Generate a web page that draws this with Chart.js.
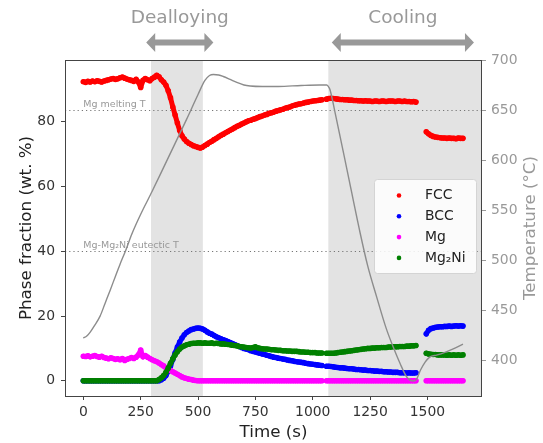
<!DOCTYPE html>
<html>
<head>
<meta charset="utf-8">
<script src="https://cdn.jsdelivr.net/npm/chart.js@4.4.0/dist/chart.umd.min.js"></script>
<style>
  html, body { margin: 0; padding: 0; background: #fff; }
</style>
</head>
<body>
<canvas id="phaseChart" width="543" height="443"></canvas>
<script>
// Sampling times (s) for the phase fractions, three acquisition segments
const time = [
  0, 10, 20, 30, 40, 50, 60, 70, 80, 90,
  100, 110, 120, 130, 140, 150, 160, 170, 180, 190,
  200, 210, 220, 230, 240, 250, 260, 270, 280, 290,
  300, 310, 320, 330, 340, 350, 360, 370, 380, 390,
  400, 410, 420, 430, 440, 450, 460, 470, 480, 490,
  500, 510, 520, 530, 540, 550, 560, 570, 580, 590,
  600, 610, 620, 630, 640, 650, 660, 670, 680, 690,
  700, 710, 720, 730, 740, 750, 760, 770, 780, 790,
  800, 810, 820, 830, 840, 850, 860, 870, 880, 890,
  900, 910, 920, 930, 940, 950, 960, 970, 980, 990,
  1000, 1010, 1020, 1030, 1040,
  1060, 1070, 1080, 1090, 1100, 1110, 1120, 1130, 1140, 1150,
  1160, 1170, 1180, 1190, 1200, 1210, 1220, 1230, 1240, 1250,
  1260, 1270, 1280, 1290, 1300, 1310, 1320, 1330, 1340, 1350,
  1360, 1370, 1380, 1390, 1400, 1410, 1420, 1430, 1440, 1450,
  1495, 1505, 1515, 1525, 1535, 1545, 1555, 1565, 1575, 1585,
  1595, 1605, 1615, 1625, 1635, 1645, 1655
];

// Phase fractions (wt. %)
const fcc = [
  92.4, 92.2, 92.5, 92.3, 92.6, 92.4, 92.7, 92.5, 92.3, 92.6,
  92.8, 93.0, 93.2, 93.4, 93.1, 93.3, 93.6, 93.8, 93.5, 93.2,
  93.0, 92.8, 92.5, 93.1, 92.3, 90.6, 92.8, 93.4, 93.0, 92.7,
  93.4, 93.8, 94.4, 93.9, 93.0, 92.3, 91.3, 89.6, 87.4, 84.6,
  82.1, 79.6, 77.3, 75.7, 74.7, 73.9, 73.4, 73.0, 72.6, 72.4,
  72.1, 71.9, 72.2, 72.7, 73.1, 73.6, 74.0, 74.5, 74.9, 75.4,
  75.8, 76.2, 76.6, 77.0, 77.4, 77.8, 78.2, 78.6, 78.9, 79.3,
  79.6, 80.0, 80.3, 80.5, 80.8, 81.0, 81.3, 81.6, 81.8, 82.1,
  82.3, 82.6, 82.8, 83.0, 83.3, 83.5, 83.7, 83.9, 84.2, 84.4,
  84.6, 84.9, 85.1, 85.3, 85.5, 85.6, 85.8, 86.0, 86.1, 86.3,
  86.4, 86.5, 86.6, 86.7, 86.8,
  87.0, 87.2, 87.3, 87.2, 87.1, 87.0, 86.9, 86.9, 86.8, 86.8,
  86.7, 86.7, 86.6, 86.6, 86.5, 86.5, 86.4, 86.5, 86.4, 86.4,
  86.3, 86.4, 86.4, 86.3, 86.4, 86.4, 86.3, 86.4, 86.4, 86.4,
  86.3, 86.4, 86.4, 86.3, 86.4, 86.3, 86.3, 86.2, 86.3, 86.1,
  76.9, 76.3, 75.8, 75.5, 75.3, 75.2, 75.1, 75.0, 75.0, 74.9,
  75.0, 74.9, 74.9, 74.8, 75.0, 74.9, 74.9
];
const bcc = [
  0, 0, 0, 0, 0, 0, 0, 0, 0, 0,
  0, 0, 0, 0, 0, 0, 0, 0, 0, 0,
  0, 0, 0, 0, 0, 0, 0, 0, 0, 0,
  0, 0, 0, 0, 0.3, 0.8, 1.6, 2.9, 4.6, 6.6,
  8.6, 10.4, 12.0, 13.2, 14.2, 14.9, 15.4, 15.8, 16.0, 16.2,
  16.3, 16.2, 16.0, 15.6, 15.1, 14.7, 14.4, 14.0, 13.6, 13.3,
  13.0, 12.7, 12.4, 12.1, 11.8, 11.5, 11.2, 10.9, 10.6, 10.3,
  10.0, 9.8, 9.6, 9.3, 9.1, 8.9, 8.7, 8.5, 8.3, 8.1,
  7.9, 7.7, 7.5, 7.3, 7.2, 7.0, 6.9, 6.7, 6.6, 6.4,
  6.3, 6.2, 6.0, 5.9, 5.8, 5.7, 5.6, 5.4, 5.3, 5.2,
  5.1, 5.0, 4.9, 4.8, 4.7,
  4.5, 4.5, 4.4, 4.3, 4.2, 4.1, 4.0, 4.0, 3.9, 3.8,
  3.7, 3.7, 3.6, 3.5, 3.5, 3.4, 3.3, 3.3, 3.2, 3.2,
  3.1, 3.0, 3.0, 2.9, 2.9, 2.8, 2.8, 2.7, 2.7, 2.6,
  2.6, 2.6, 2.5, 2.5, 2.5, 2.4, 2.5, 2.4, 2.4, 2.5,
  14.5, 15.6, 16.1, 16.3, 16.5, 16.6, 16.7, 16.7, 16.8, 16.8,
  16.9, 16.8, 16.9, 17.0, 16.9, 17.0, 16.9
];
const mg = [
  7.6, 7.5, 7.7, 7.4, 7.6, 7.8, 7.5, 7.3, 7.6, 7.2,
  7.0, 6.8, 7.1, 6.9, 6.6, 6.8, 6.5, 6.9, 6.3, 6.6,
  6.9, 7.2, 6.9, 7.3, 8.0, 9.5, 7.4, 7.8, 7.3, 6.9,
  6.5, 6.2, 5.9, 5.5, 5.0, 4.6, 4.0, 3.6, 3.2, 2.8,
  2.4, 2.0, 1.6, 1.2, 0.9, 0.7, 0.5, 0.4, 0.2, 0.1,
  0, 0, 0, 0, 0, 0, 0, 0, 0, 0,
  0, 0, 0, 0, 0, 0, 0, 0, 0, 0,
  0, 0, 0, 0, 0, 0, 0, 0, 0, 0,
  0, 0, 0, 0, 0, 0, 0, 0, 0, 0,
  0, 0, 0, 0, 0, 0, 0, 0, 0, 0,
  0, 0, 0, 0, 0,
  0, 0, 0, 0, 0, 0, 0, 0, 0, 0,
  0, 0, 0, 0, 0, 0, 0, 0, 0, 0,
  0, 0, 0, 0, 0, 0, 0, 0, 0, 0,
  0, 0, 0, 0, 0, 0, 0, 0, 0, 0,
  0, 0, 0, 0, 0, 0, 0, 0, 0, 0,
  0, 0, 0, 0, 0, 0, 0
];
const mg2ni = [
  0, 0, 0, 0, 0, 0, 0, 0, 0, 0,
  0, 0, 0, 0, 0, 0, 0, 0, 0, 0,
  0, 0, 0, 0, 0, 0, 0, 0, 0, 0,
  0, 0, 0, 0.4, 0.9, 1.6, 2.6, 3.9, 5.4, 6.8,
  8.0, 9.0, 9.8, 10.4, 10.8, 11.1, 11.3, 11.5, 11.6, 11.6,
  11.7, 11.7, 11.6, 11.7, 11.6, 11.6, 11.7, 11.5, 11.6, 11.5,
  11.4, 11.4, 11.3, 11.2, 11.1, 11.0, 10.9, 10.8, 10.6, 10.5,
  10.4, 10.3, 10.2, 10.1, 10.3, 10.5, 10.2, 10.0, 9.9, 9.8,
  9.8, 9.7, 9.6, 9.6, 9.5, 9.4, 9.4, 9.3, 9.3, 9.2,
  9.2, 9.1, 9.1, 9.1, 9.0, 8.9, 8.9, 8.8, 8.8, 8.7,
  8.7, 8.7, 8.6, 8.6, 8.6,
  8.5, 8.5, 8.5, 8.5, 8.6, 8.7, 8.8, 8.9, 9.0, 9.1,
  9.2, 9.3, 9.4, 9.5, 9.6, 9.7, 9.8, 9.9, 10.0, 10.0,
  10.1, 10.1, 10.2, 10.2, 10.3, 10.3, 10.3, 10.4, 10.4, 10.5,
  10.5, 10.5, 10.6, 10.6, 10.6, 10.7, 10.7, 10.8, 10.8, 10.9,
  8.5, 8.3, 8.2, 8.1, 8.1, 8.0, 8.0, 8.0, 8.0, 7.9,
  8.0, 7.9, 8.0, 7.9, 8.0, 7.9, 8.0
];

// Furnace temperature (°C)
const tempTime = [
  0, 15, 30, 50, 73, 95, 117, 140, 160, 185, 211, 250, 300, 350, 400, 450,
  500, 530, 550, 567, 590, 610, 640, 669, 700, 727, 780, 850, 950, 1030,
  1061, 1068, 1075, 1100, 1150, 1206, 1240, 1279, 1320, 1351, 1380, 1410,
  1438, 1453, 1470, 1490, 1510, 1540, 1568, 1610, 1655
];
const tempValues = [
  422, 424, 428, 435, 444, 457, 470, 484, 496, 510, 526, 546, 569, 593, 617, 641,
  666, 680, 685, 686, 685.5, 684, 681, 678, 675.5, 674.5, 674, 674, 675, 675.5,
  675.5, 674, 671, 645, 590, 528, 494, 463, 432, 413, 397, 383,
  379, 381, 390, 398, 403, 405, 407, 411, 416
];

// Axes
const timeTicks = [0, 250, 500, 750, 1000, 1250, 1500];
const fractionTicks = [0, 20, 40, 60, 80];
const tempTicks = [400, 450, 500, 550, 600, 650, 700];

// Shaded stages, reference temperatures, stage arrows
const shadeFrom = [295, 1068];
const shadeTo = [521, 1800];
const refTemps = [650, 509];
const refLabels = ['Mg melting T', 'Mg-Mg\u2082Ni eutectic T'];
const stageNames = ['Dealloying', 'Cooling'];
const stageFrom = [274, 1083];
const stageTo = [567, 1703];

const phaseNames = ['FCC', 'BCC', 'Mg', 'Mg\u2082Ni'];
const phaseColors = ['#ff0000', '#0000ff', '#ff00ff', '#008000'];
const phaseValues = [fcc, bcc, mg, mg2ni];

const FONT = 'DejaVu Sans';
Chart.defaults.font.family = FONT;

// dense acquisition: join samples, break the band where acquisition stopped
function toPoints(vals) {
  const pts = [];
  time.forEach((t, i) => {
    if (i > 0 && t - time[i - 1] > 15) pts.push({ x: t - 1, y: null });
    pts.push({ x: t, y: vals[i] });
  });
  return pts;
}

const datasets = [{
  type: 'line',
  label: 'Temperature',
  data: tempTime.map((t, i) => ({ x: t, y: tempValues[i] })),
  yAxisID: 'yTemp',
  borderColor: '#8c8c8c',
  borderWidth: 1.4,
  pointRadius: 0,
  cubicInterpolationMode: 'monotone',
  order: 0
}];
phaseNames.forEach((name, k) => {
  datasets.push({
    type: 'scatter',
    label: name,
    data: toPoints(phaseValues[k]),
    yAxisID: 'y',
    showLine: true,
    spanGaps: false,
    borderColor: phaseColors[k],
    borderWidth: 5,
    borderCapStyle: 'round',
    borderJoinStyle: 'round',
    backgroundColor: phaseColors[k],
    pointBorderWidth: 0,
    pointRadius: 2.8,
    order: 4 - k
  });
});

function drawArrow(ctx, x0, x1, y) {
  const head = 9, half = 9.5, shaft = 3;
  ctx.beginPath();
  ctx.moveTo(x0, y);
  ctx.lineTo(x0 + head, y - half);
  ctx.lineTo(x0 + head, y - shaft);
  ctx.lineTo(x1 - head, y - shaft);
  ctx.lineTo(x1 - head, y - half);
  ctx.lineTo(x1, y);
  ctx.lineTo(x1 - head, y + half);
  ctx.lineTo(x1 - head, y + shaft);
  ctx.lineTo(x0 + head, y + shaft);
  ctx.lineTo(x0 + head, y + half);
  ctx.closePath();
  ctx.fill();
}

const decor = {
  id: 'decor',
  beforeDatasetsDraw(chart) {
    const { ctx, chartArea: a, scales: { x, yTemp } } = chart;
    ctx.save();
    // shaded stages
    ctx.fillStyle = '#e3e3e3';
    shadeFrom.forEach((t0, i) => {
      const x0 = Math.max(a.left, x.getPixelForValue(t0));
      const x1 = Math.min(a.right, x.getPixelForValue(shadeTo[i]));
      ctx.fillRect(x0, a.top, x1 - x0, a.bottom - a.top);
    });
    // reference temperatures
    refTemps.forEach((T, i) => {
      const y = Math.round(yTemp.getPixelForValue(T)) + 0.5;
      ctx.strokeStyle = '#777';
      ctx.lineWidth = 1.2;
      ctx.setLineDash([1.2, 3]);
      ctx.beginPath();
      ctx.moveTo(a.left, y);
      ctx.lineTo(a.right, y);
      ctx.stroke();
      ctx.setLineDash([]);
      ctx.fillStyle = '#999';
      ctx.font = '9.5px "' + FONT + '"';
      ctx.textAlign = 'left';
      ctx.textBaseline = 'alphabetic';
      ctx.fillText(refLabels[i], x.getPixelForValue(0), y - 4);
    });
    ctx.restore();
  },
  afterDraw(chart) {
    const { ctx, chartArea: a, scales: { x } } = chart;
    ctx.save();
    // frame
    ctx.strokeStyle = '#444';
    ctx.lineWidth = 1;
    ctx.strokeRect(Math.round(a.left) + 0.5, Math.round(a.top) + 0.5,
      Math.round(a.right - a.left) - 1, Math.round(a.bottom - a.top));

    // legend
    const lx = a.right - 108, ly = a.top + 119, lw = 102, lh = 94;
    ctx.fillStyle = 'rgba(255,255,255,0.85)';
    ctx.strokeStyle = '#d4d4d4';
    ctx.beginPath();
    ctx.roundRect(lx + 0.5, ly + 0.5, lw, lh, 3);
    ctx.fill();
    ctx.stroke();
    ctx.font = '13.9px "' + FONT + '"';
    ctx.textBaseline = 'middle';
    ctx.textAlign = 'left';
    phaseNames.forEach((name, k) => {
      const cy = ly + 16.5 + k * 20.8;
      ctx.fillStyle = phaseColors[k];
      ctx.beginPath();
      ctx.arc(lx + 25, cy, 2.3, 0, Math.PI * 2);
      ctx.fill();
      ctx.fillStyle = '#222';
      ctx.fillText(name, lx + 51, cy);
    });

    // stage arrows and names
    ctx.fillStyle = '#999';
    ctx.font = '18.5px "' + FONT + '"';
    ctx.textAlign = 'center';
    ctx.textBaseline = 'alphabetic';
    stageNames.forEach((name, i) => {
      const x0 = x.getPixelForValue(stageFrom[i]);
      const x1 = x.getPixelForValue(stageTo[i]);
      ctx.fillText(name, (x0 + x1) / 2, 23);
      drawArrow(ctx, x0, x1, 42.5);
    });

    // right axis title, reading bottom to top
    ctx.save();
    ctx.translate(531, (a.top + a.bottom) / 2);
    ctx.rotate(-Math.PI / 2);
    ctx.font = '16.7px "' + FONT + '"';
    ctx.fillStyle = '#999';
    ctx.textAlign = 'center';
    ctx.textBaseline = 'middle';
    ctx.fillText('Temperature (\u00b0C)', 0, 0);
    ctx.restore();
    ctx.restore();
  }
};

new Chart(document.getElementById('phaseChart'), {
  type: 'scatter',
  data: { datasets },
  plugins: [decor],
  options: {
    responsive: false,
    animation: false,
    devicePixelRatio: 1,
    layout: { padding: { top: 60, left: 0, right: 0, bottom: 0 } },
    plugins: { legend: { display: false }, tooltip: { enabled: false } },
    scales: {
      x: {
        type: 'linear',
        min: -80,
        max: 1738,
        afterFit: s => { s.height = 47; },
        afterBuildTicks: s => { s.ticks = timeTicks.map(v => ({ value: v })); },
        border: { display: false },
        grid: { drawOnChartArea: false, tickLength: 4, tickColor: '#444' },
        ticks: { color: '#333', font: { size: 13.9 }, padding: 4, maxRotation: 0, autoSkip: false, callback: v => String(v) },
        title: { display: true, text: 'Time (s)', color: '#222', font: { size: 16.7 }, padding: { top: 0, bottom: 0 } }
      },
      y: {
        position: 'left',
        min: -4.7,
        max: 99.1,
        afterFit: s => { s.width = 65; },
        afterBuildTicks: s => { s.ticks = fractionTicks.map(v => ({ value: v })); },
        border: { display: false },
        grid: { drawOnChartArea: false, tickLength: 4, tickColor: '#444' },
        ticks: { color: '#333', font: { size: 13.9 }, padding: 6 },
        title: { display: true, text: 'Phase fraction (wt. %)', color: '#222', font: { size: 16.7 }, padding: { top: 17, bottom: 0 } }
      },
      yTemp: {
        position: 'right',
        min: 364,
        max: 700.5,
        afterFit: s => { s.width = 61; },
        afterBuildTicks: s => { s.ticks = tempTicks.map(v => ({ value: v })); },
        border: { display: false },
        grid: { drawOnChartArea: false, tickLength: 4, tickColor: '#999' },
        ticks: { color: '#999', font: { size: 13.9 }, padding: 5 }
      }
    }
  }
});
</script>
</body>
</html>
